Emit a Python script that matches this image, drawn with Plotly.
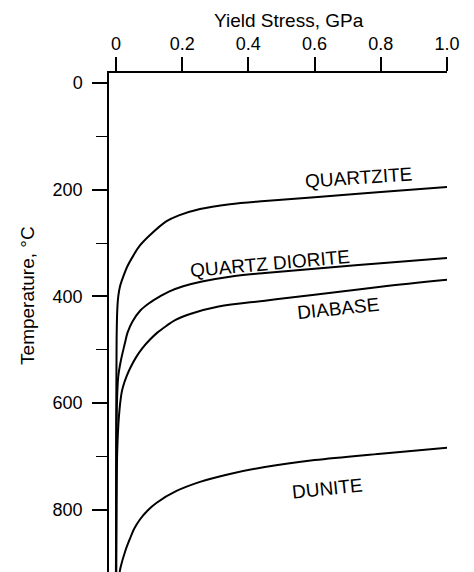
import plotly.graph_objects as go

# Yield stress (GPa) versus temperature (deg C) for four rock types
rock_names = ["QUARTZITE", "QUARTZ DIORITE", "DIABASE", "DUNITE"]

quartzite_stress = [1.0, 0.8, 0.6, 0.45, 0.344, 0.254, 0.19, 0.153, 0.103, 0.072, 0.052, 0.035, 0.022, 0.012, 0.007, 0.004, 0.002, 0.001, 0.0]
quartzite_temp = [195, 204, 214, 221, 227, 236, 248, 259, 285, 305, 324, 343, 363, 382, 400, 425, 480, 600, 920]

diorite_stress = [1.0, 0.8, 0.6, 0.45, 0.344, 0.26, 0.203, 0.16, 0.133, 0.1, 0.073, 0.05, 0.035, 0.027, 0.015, 0.007, 0.003, 0.001, 0.0]
diorite_temp = [328, 338, 348, 356, 363, 372, 381, 391, 400, 413, 427, 447, 468, 488, 520, 550, 600, 720, 920]

diabase_stress = [1.0, 0.8, 0.6, 0.45, 0.31, 0.224, 0.18, 0.153, 0.125, 0.103, 0.08, 0.062, 0.045, 0.032, 0.022, 0.017, 0.009, 0.004, 0.002, 0.001]
diabase_temp = [369, 382, 397, 408, 419, 433, 444, 455, 468, 481, 497, 513, 532, 550, 568, 581, 625, 687, 780, 920]

dunite_stress = [1.0, 0.8, 0.6, 0.45, 0.344, 0.254, 0.183, 0.123, 0.095, 0.073, 0.055, 0.042, 0.028, 0.014, 0.011]
dunite_temp = [684, 695, 707, 720, 733, 748, 765, 787, 802, 818, 836, 855, 878, 908, 918]

# Curve labels: (stress, temperature, rotation)
label_stress = [0.734, 0.465, 0.671, 0.64]
label_temp = [177, 339, 423, 761]
label_angle = [-4, -5, -6, -6]

x_ticks = [0, 0.2, 0.4, 0.6, 0.8, 1.0]
x_tick_text = ["0", "0.2", "0.4", "0.6", "0.8", "1.0"]
y_ticks = [0, 200, 400, 600, 800]
y_minor_ticks = [100, 300, 500, 700]

FONT = "Liberation Sans, Arial, Helvetica, sans-serif"

series = [
    (quartzite_stress, quartzite_temp),
    (diorite_stress, diorite_temp),
    (diabase_stress, diabase_temp),
    (dunite_stress, dunite_temp),
]

fig = go.Figure()
for name, (xs, ys) in zip(rock_names, series):
    fig.add_trace(go.Scatter(
        x=xs, y=ys, mode="lines", name=name,
        line=dict(color="black", width=2, shape="spline", smoothing=1.0),
        showlegend=False, hoverinfo="skip",
    ))

for name, lx, ly, ang in zip(rock_names, label_stress, label_temp, label_angle):
    fig.add_annotation(
        x=lx, y=ly, text=name, showarrow=False, textangle=ang,
        xanchor="center", yanchor="middle",
        font=dict(family=FONT, size=19, color="black"),
    )

# Axis titles
fig.add_annotation(
    xref="paper", yref="paper", x=0.533, y=1.106, text="Yield Stress, GPa",
    xanchor="center", yanchor="middle",
    showarrow=False, font=dict(family=FONT, size=19, color="black"),
)
fig.add_annotation(
    xref="paper", yref="paper", x=-0.243, y=0.555, text="Temperature, °C",
    xanchor="center", yanchor="middle",
    textangle=-90, showarrow=False, font=dict(family=FONT, size=19, color="black"),
)

fig.update_layout(
    width=474, height=572,
    margin=dict(l=109, r=27, t=73, b=0),
    plot_bgcolor="white", paper_bgcolor="white",
    font=dict(family=FONT, size=18, color="black"),
)
fig.update_xaxes(
    side="top", range=[-0.021, 1.0],
    tickvals=x_ticks, ticktext=x_tick_text,
    ticks="outside", ticklen=14, tickwidth=1.5, tickcolor="black",
    showline=True, linecolor="black", linewidth=1.5,
    showgrid=False, zeroline=False,
    tickfont=dict(family=FONT, size=18, color="black"),
)
fig.update_yaxes(
    range=[917, -19],
    tickvals=y_ticks,
    ticks="outside", ticklen=15, tickwidth=1.5, tickcolor="black",
    ticklabelstandoff=6,
    minor=dict(tickvals=y_minor_ticks, ticks="outside", ticklen=11,
               tickwidth=1.2, tickcolor="black"),
    showline=True, linecolor="black", linewidth=1.5,
    showgrid=False, zeroline=False,
    tickfont=dict(family=FONT, size=18, color="black"),
)

fig.write_html("out.html")
